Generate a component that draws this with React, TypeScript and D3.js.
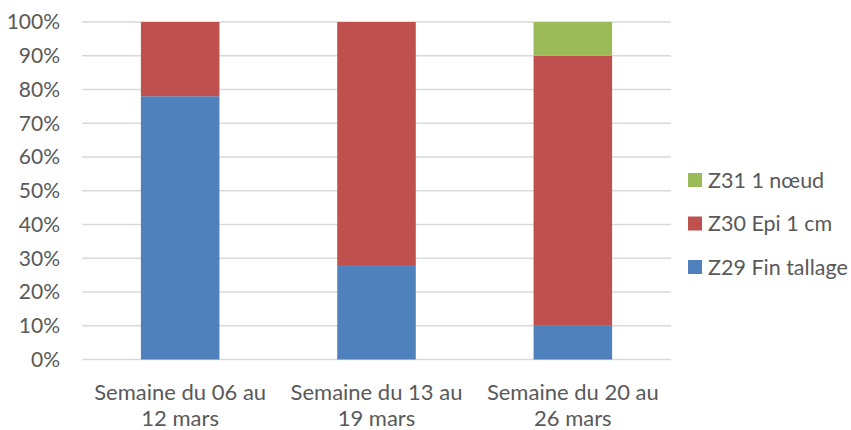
import * as d3 from "d3";

const categories = [
  ["Semaine du 06 au", "12 mars"],
  ["Semaine du 13 au", "19 mars"],
  ["Semaine du 20 au", "26 mars"],
];
const seriesNames = ["Z29 Fin tallage", "Z30 Epi 1 cm", "Z31 1 nœud"];
const seriesColors = ["#4f81bd", "#c0504d", "#9bbb59"];
const z29 = [0.78, 0.28, 0.1];
const z30 = [0.22, 0.72, 0.8];
const z31 = [0, 0, 0.1];
const yTicks = [0, 0.1, 0.2, 0.3, 0.4, 0.5, 0.6, 0.7, 0.8, 0.9, 1];

const W = 851;
const H = 430;
const left = 82;
const right = 671;
const top = 22;
const bottom = 359.5;
const font = "Lato, 'Open Sans', sans-serif";
const textColor = "#595959";

export default function App() {
  const rows = categories.map((c, i) => ({ key: i, z29: z29[i], z30: z30[i], z31: z31[i] }));
  const stack = d3.stack<any>().keys(["z29", "z30", "z31"])(rows);

  const x = d3.scaleBand<number>().domain(d3.range(categories.length)).range([left, right]).paddingInner(0.6).paddingOuter(0.3);
  const y = d3.scaleLinear().domain([0, 1]).range([bottom, top]);
  const fmt = d3.format(".0%");

  return (
    <svg width={W} height={H} style={{ position: "absolute", left: 0, top: 0, background: "#fff" }}>
      {yTicks.map((t) => (
        <g key={t}>
          <line x1={left} x2={right} y1={y(t)} y2={y(t)} stroke="#d9d9d9" strokeWidth={1.3} />
          <text x={60} y={y(t)} dy="0.35em" textAnchor="end" fontFamily={font} fontSize={21} fill={textColor}>
            {fmt(t)}
          </text>
        </g>
      ))}
      {stack.map((s, si) => (
        <g key={si} fill={seriesColors[si]}>
          {s.map((d, i) =>
            d[1] - d[0] > 0 ? (
              <rect key={i} x={x(i)} width={x.bandwidth()} y={y(d[1])} height={y(d[0]) - y(d[1])} />
            ) : null
          )}
        </g>
      ))}
      {categories.map((c, i) => (
        <text key={i} textAnchor="middle" fontFamily={font} fontSize={22} fill={textColor}>
          {c.map((line, li) => (
            <tspan key={li} x={(x(i) as number) + x.bandwidth() / 2} y={392 + li * 26} dy="0.35em">
              {line}
            </tspan>
          ))}
        </text>
      ))}
      {seriesNames
        .map((n, i) => ({ n, i }))
        .reverse()
        .map(({ n, i }, k) => (
          <g key={n} transform={`translate(688, ${180 + k * 43.5})`}>
            <rect x={0} y={-7} width={14} height={14} fill={seriesColors[i]} />
            <text x={20} y={0} dy="0.35em" fontFamily={font} fontSize={21.5} fill={textColor}>
              {n}
            </text>
          </g>
        ))}
    </svg>
  );
}
